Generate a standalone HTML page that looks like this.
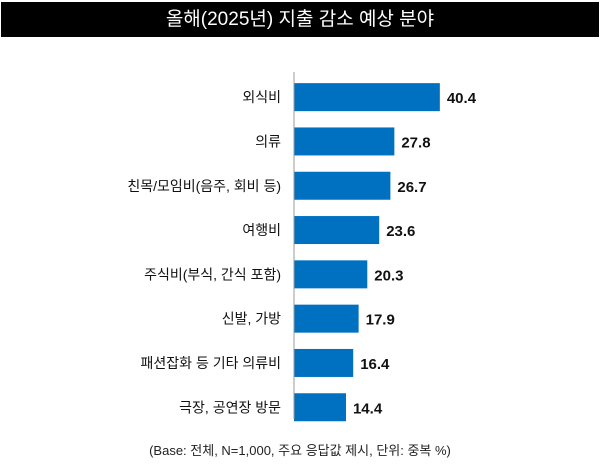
<!DOCTYPE html>
<html><head><meta charset="utf-8"><style>
body{margin:0;width:600px;height:471px;background:#fff;overflow:hidden;font-family:"Liberation Sans","Noto Sans CJK KR",sans-serif;}
#title{position:absolute;left:1px;top:2px;width:598px;height:35px;background:#000;color:#fff;font-size:19px;line-height:35px;text-align:center;}
#foot{position:absolute;left:0;top:440px;width:600px;text-align:center;font-size:13px;color:#222;}
</style></head><body>
<div id="title">올해(2025년) 지출 감소 예상 분야</div>
<svg id="chart" width="600" height="471" style="position:absolute;left:0;top:0"></svg>
<div id="foot">(Base: 전체, N=1,000, 주요 응답값 제시, 단위: 중복 %)</div>
<script>
const categories=["외식비","의류","친목/모임비(음주, 회비 등)","여행비","주식비(부식, 간식 포함)","신발, 가방","패션잡화 등 기타 의류비","극장, 공연장 방문"];
const values=[40.4,27.8,26.7,23.6,20.3,17.9,16.4,14.4];
const valueLabels=["40.4","27.8","26.7","23.6","20.3","17.9","16.4","14.4"];
const NS="http://www.w3.org/2000/svg";
const svg=document.getElementById('chart');
const x0=294,pxPer=3.61,yTop=75,band=44.3,barH=28;
const xs=v=>x0+v*pxPer;
const yc=i=>yTop+band*(i+0.5);
function mk(t,a){const e=document.createElementNS(NS,t);for(const k in a)e.setAttribute(k,a[k]);svg.appendChild(e);return e;}
categories.forEach((c,i)=>{
 const r=mk('rect',{x:x0,y:yc(i)-barH/2,width:xs(values[i])-x0,height:barH,fill:'#0070c0'});
 
 
 const l=mk('text',{x:281,y:yc(i)+5,'text-anchor':'end','font-size':'14',fill:'#111'});
 l.textContent=c;
 
 
 const v=mk('text',{x:xs(values[i])+7,y:yc(i)+6,'font-size':'15','font-weight':'bold',fill:'#111'});
 v.textContent=valueLabels[i];
 
 
});
const ax=mk('line',{x1:x0,x2:x0,y1:72,y2:419,stroke:'#999','stroke-width':1});


</script>
</body></html>
